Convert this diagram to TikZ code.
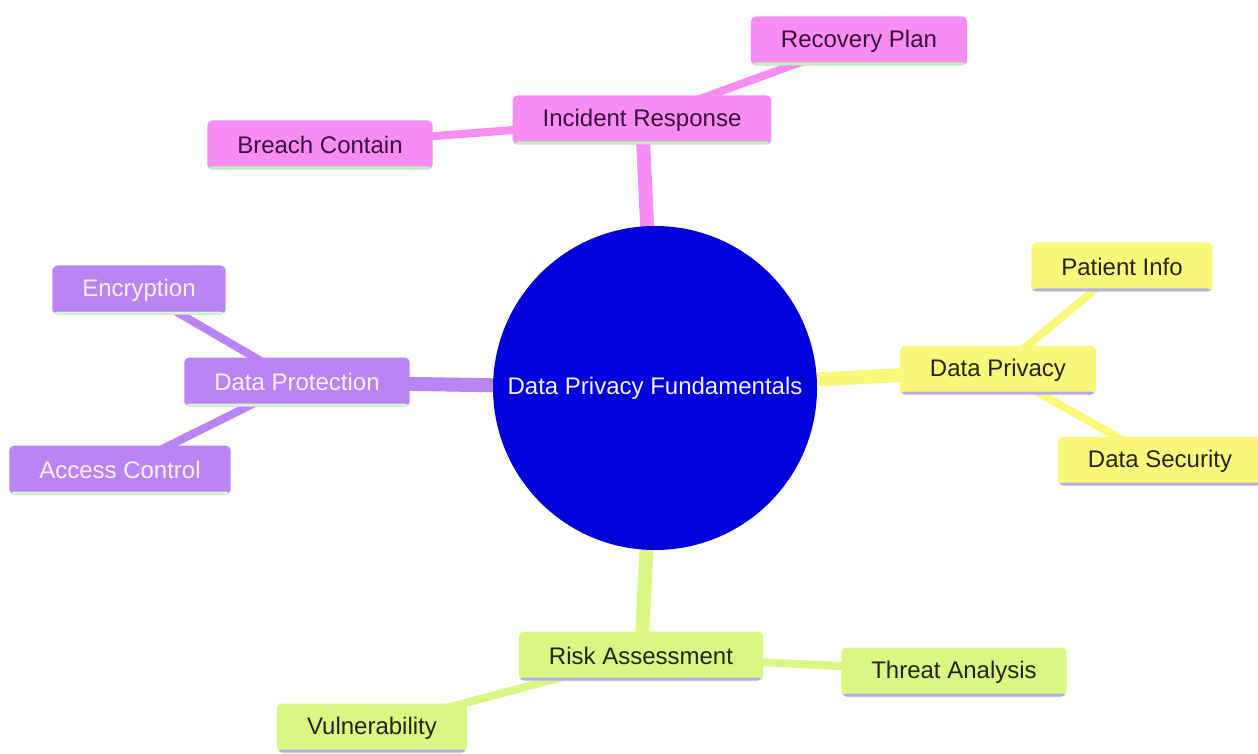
\documentclass[tikz,border=0pt]{standalone}
\usepackage{fontspec}
\setmainfont{Liberation Sans}
\usetikzlibrary{backgrounds}
\definecolor{rootblue}{HTML}{0000DC}
\definecolor{irpink}{HTML}{F78CF3}
\definecolor{dppurple}{HTML}{BA84F5}
\definecolor{pvyellow}{HTML}{FAF87A}
\definecolor{ragreen}{HTML}{DAF783}
\definecolor{greenline}{HTML}{BDF2B8}
\definecolor{lilacline}{HTML}{B4AEE6}
\definecolor{pinktext}{HTML}{3C0F3E}
\definecolor{lighttext}{HTML}{F6F0FF}
\definecolor{darktext}{HTML}{262614}

\begin{document}
\begin{tikzpicture}[x=0.5pt,y=-0.5pt,
  box/.style={rounded corners=2.5pt, inner xsep=15pt, minimum height=24.5pt,
    font=\fontsize{12}{14}\selectfont,
    path picture={\fill[#1] (path picture bounding box.south west) rectangle ([yshift=1.5pt]path picture bounding box.south east);}},
  pinkbox/.style={box=greenline, fill=irpink, text=pinktext},
  purplebox/.style={box=greenline!60!white, fill=dppurple, text=lighttext},
  yellowbox/.style={box=lilacline, fill=pvyellow, text=darktext},
  greenbox/.style={box=lilacline, fill=ragreen, text=darktext},
  mainedge/.style={line width=7pt},
  subedge/.style={line width=4pt}]
  \useasboundingbox (0,0) rectangle (1258,754);
  \node[circle, fill=rootblue, minimum size=162pt, inner sep=0pt, text=lighttext,
    font=\fontsize{12}{14}\selectfont] (R) at (655,388) {Data Privacy Fundamentals};
  \node[pinkbox] (IR) at (642,120) {Incident Response};
  \node[pinkbox] (RP) at (859,41) {Recovery Plan};
  \node[pinkbox] (BC) at (320,145) {Breach Contain};
  \node[purplebox] (DP) at (297,382) {Data Protection};
  \node[purplebox] (EN) at (139,290) {Encryption};
  \node[purplebox] (AC) at (120,470) {Access Control};
  \node[yellowbox] (PV) at (998,370) {Data Privacy};
  \node[yellowbox] (PI) at (1122,267) {Patient Info};
  \node[yellowbox] (DS) at (1160,461) {Data Security};
  \node[greenbox] (RA) at (641,656) {Risk Assessment};
  \node[greenbox] (TA) at (954,672) {Threat Analysis};
  \node[greenbox] (VU) at (372,728) {Vulnerability};
  \begin{scope}[on background layer]
    \draw[mainedge, color=irpink] (R.center) -- (IR.center);
    \draw[subedge, color=irpink] (IR.center) -- (RP.center);
    \draw[subedge, color=irpink] (IR.center) -- (BC.center);
    \draw[mainedge, color=dppurple] (R.center) -- (DP.center);
    \draw[subedge, color=dppurple] (DP.center) -- (EN.center);
    \draw[subedge, color=dppurple] (DP.center) -- (AC.center);
    \draw[mainedge, color=pvyellow] (R.center) -- (PV.center);
    \draw[subedge, color=pvyellow] (PV.center) -- (PI.center);
    \draw[subedge, color=pvyellow] (PV.center) -- (DS.center);
    \draw[mainedge, color=ragreen] (R.center) -- (RA.center);
    \draw[subedge, color=ragreen] (RA.center) -- (TA.center);
    \draw[subedge, color=ragreen] (RA.center) -- (VU.center);
  \end{scope}
\end{tikzpicture}
\end{document}
